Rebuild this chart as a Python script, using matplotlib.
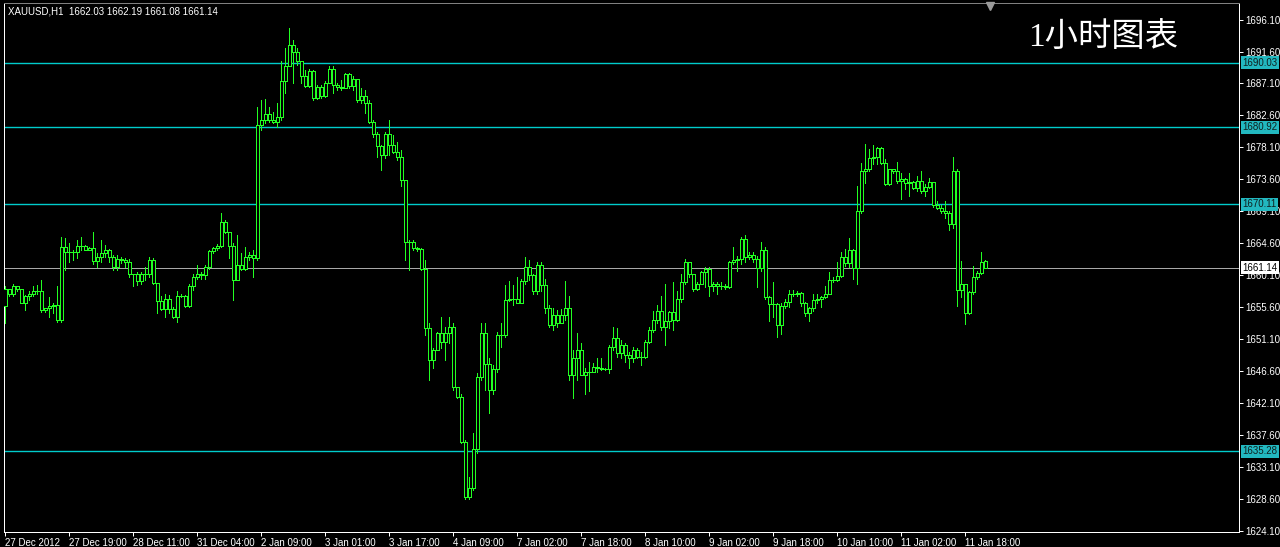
import matplotlib
matplotlib.use("Agg")
import matplotlib.pyplot as plt
import numpy as np

# XAUUSD H1, 27 Dec 2012 03:00 .. 11 Jan 2013 23:00 (246 bars)
opens = [
    1655.7, 1658.2, 1657.4, 1658.5, 1658.2, 1656.2, 1657.2, 1657.5, 1657.9, 1657.9,
    1655.2, 1655.4, 1655.8, 1655.9, 1653.8, 1664.1, 1663.4, 1663.3, 1663.3, 1664.2,
    1664.2, 1663.7, 1663.9, 1662.1, 1662.6, 1663.2, 1663.6, 1662.6, 1661.3, 1662.4,
    1662.2, 1662.0, 1660.2, 1660.2, 1659.2, 1660.2, 1660.2, 1662.2, 1659.0, 1656.4,
    1655.3, 1656.8, 1655.3, 1654.2, 1657.2, 1657.2, 1655.7, 1658.6, 1659.9, 1660.3,
    1660.1, 1661.3, 1663.5, 1663.9, 1664.2, 1667.6, 1666.2, 1664.2, 1659.4, 1661.5,
    1660.9, 1662.7, 1662.9, 1662.5, 1681.2, 1682.0, 1682.8, 1682.0, 1681.7, 1682.4,
    1687.4, 1689.5, 1692.5, 1691.6, 1690.2, 1688.2, 1686.8, 1688.9, 1685.0, 1686.6,
    1685.3, 1687.2, 1689.2, 1686.9, 1686.6, 1686.4, 1688.4, 1686.7, 1687.7, 1684.8,
    1685.3, 1684.3, 1681.7, 1680.0, 1678.3, 1677.0, 1680.0, 1678.4, 1677.5, 1676.7,
    1673.5, 1664.8, 1664.8, 1663.9, 1663.8, 1660.9, 1652.6, 1648.2, 1649.6, 1652.0,
    1650.7, 1651.9, 1652.8, 1644.4, 1642.9, 1636.6, 1628.9, 1630.1, 1635.6, 1645.8,
    1651.9, 1647.6, 1643.9, 1646.8, 1651.7, 1651.7, 1656.6, 1656.7, 1656.7, 1656.2,
    1659.2, 1661.3, 1660.1, 1657.8, 1661.5, 1658.7, 1655.4, 1653.1, 1654.5, 1653.3,
    1654.5, 1655.4, 1646.0, 1648.4, 1649.6, 1646.0, 1646.5, 1646.5, 1647.1, 1647.0,
    1646.8, 1646.8, 1649.9, 1651.2, 1649.1, 1650.3, 1648.8, 1648.4, 1649.6, 1648.6,
    1648.6, 1650.7, 1652.4, 1653.8, 1655.1, 1652.8, 1653.7, 1654.9, 1653.8, 1656.8,
    1659.1, 1661.9, 1660.2, 1658.2, 1658.9, 1660.5, 1661.0, 1658.6, 1658.8, 1658.6,
    1658.5, 1658.4, 1661.9, 1662.2, 1662.4, 1665.2, 1662.7, 1663.0, 1662.4, 1661.1,
    1663.6, 1657.0, 1656.0, 1656.0, 1653.0, 1655.8, 1656.3, 1657.5, 1657.5, 1657.6,
    1656.1, 1654.8, 1655.4, 1656.6, 1656.8, 1657.0, 1657.5, 1659.4, 1659.4, 1660.0,
    1662.6, 1661.8, 1663.6, 1661.1, 1669.1, 1674.8, 1675.1, 1676.6, 1676.7, 1678.0,
    1675.9, 1672.9, 1675.0, 1674.7, 1673.3, 1673.6, 1673.1, 1673.2, 1672.4, 1673.3,
    1672.0, 1672.5, 1673.2, 1670.0, 1669.6, 1669.1, 1668.9, 1667.3, 1674.8, 1658.0,
    1658.8, 1654.8, 1657.7, 1659.9, 1660.4, 1662.03,
]
highs = [
    1658.5, 1658.2, 1658.9, 1658.5, 1658.2, 1657.3, 1657.8, 1658.5, 1658.7, 1659.4,
    1655.5, 1657.0, 1656.1, 1658.5, 1665.5, 1665.3, 1664.6, 1663.6, 1665.0, 1665.5,
    1664.3, 1664.1, 1666.2, 1663.2, 1665.0, 1664.3, 1663.8, 1662.9, 1662.9, 1662.7,
    1662.5, 1662.3, 1660.3, 1660.6, 1660.6, 1661.3, 1662.6, 1662.5, 1658.9, 1657.1,
    1657.5, 1657.3, 1655.6, 1657.8, 1657.5, 1657.3, 1658.9, 1660.3, 1661.5, 1660.6,
    1661.5, 1663.7, 1664.1, 1664.5, 1668.9, 1667.9, 1666.2, 1664.6, 1665.7, 1663.2,
    1664.1, 1663.4, 1663.6, 1683.8, 1684.8, 1684.9, 1683.8, 1683.1, 1684.3, 1690.2,
    1692.1, 1694.9, 1693.2, 1692.1, 1690.2, 1689.0, 1689.1, 1689.0, 1686.9, 1686.9,
    1687.4, 1689.5, 1689.5, 1687.1, 1687.6, 1688.6, 1688.6, 1688.1, 1687.8, 1686.4,
    1686.2, 1684.8, 1682.0, 1680.3, 1678.4, 1680.3, 1682.0, 1679.8, 1678.9, 1677.7,
    1673.5, 1665.0, 1665.1, 1664.0, 1663.9, 1662.2, 1653.3, 1649.8, 1652.1, 1654.2,
    1652.8, 1654.2, 1653.3, 1644.4, 1643.4, 1636.9, 1631.7, 1637.8, 1646.3, 1653.3,
    1653.3, 1648.4, 1647.4, 1652.1, 1653.3, 1658.7, 1659.2, 1658.7, 1659.9, 1659.6,
    1662.7, 1662.2, 1660.3, 1662.0, 1662.0, 1659.6, 1655.9, 1655.4, 1655.2, 1655.3,
    1659.2, 1657.1, 1649.6, 1651.9, 1650.5, 1647.0, 1647.9, 1647.7, 1648.4, 1648.4,
    1647.0, 1650.3, 1652.8, 1652.6, 1651.0, 1650.5, 1649.3, 1650.0, 1649.8, 1649.3,
    1651.0, 1652.8, 1655.0, 1655.9, 1657.2, 1658.9, 1655.0, 1659.1, 1657.9, 1660.3,
    1662.4, 1661.9, 1660.3, 1659.1, 1660.7, 1661.2, 1661.2, 1659.1, 1659.1, 1659.1,
    1658.9, 1662.1, 1664.0, 1662.8, 1665.5, 1665.8, 1663.3, 1663.3, 1662.8, 1664.7,
    1664.0, 1657.2, 1659.1, 1656.1, 1656.1, 1656.8, 1658.0, 1658.0, 1657.9, 1657.7,
    1656.3, 1655.6, 1657.5, 1657.4, 1657.2, 1658.6, 1660.5, 1659.8, 1661.9, 1663.3,
    1663.8, 1665.3, 1663.8, 1672.6, 1675.9, 1678.6, 1677.8, 1678.4, 1678.2, 1678.1,
    1676.4, 1675.1, 1675.1, 1676.0, 1674.5, 1673.8, 1674.5, 1673.3, 1674.0, 1674.7,
    1672.9, 1673.8, 1673.2, 1670.5, 1670.0, 1670.5, 1669.1, 1676.7, 1675.0, 1662.1,
    1658.9, 1657.9, 1661.4, 1660.7, 1663.3, 1662.19,
]
lows = [
    1653.3, 1657.1, 1657.1, 1657.9, 1656.1, 1655.2, 1656.6, 1657.1, 1657.5, 1654.9,
    1654.9, 1654.2, 1654.7, 1653.5, 1653.5, 1660.8, 1662.0, 1662.2, 1662.5, 1663.6,
    1663.6, 1663.6, 1661.7, 1661.3, 1662.0, 1662.7, 1662.0, 1660.8, 1660.8, 1661.8,
    1661.3, 1659.9, 1658.5, 1658.7, 1658.9, 1659.4, 1659.9, 1658.9, 1654.7, 1655.2,
    1654.2, 1654.7, 1654.0, 1653.5, 1657.0, 1655.6, 1655.6, 1658.0, 1659.6, 1659.6,
    1659.6, 1661.0, 1663.2, 1663.7, 1664.1, 1666.0, 1662.5, 1656.6, 1659.4, 1660.8,
    1660.8, 1662.2, 1659.9, 1662.2, 1680.5, 1681.5, 1681.7, 1681.5, 1681.0, 1681.9,
    1685.7, 1689.5, 1687.1, 1689.7, 1687.1, 1686.6, 1686.6, 1684.8, 1684.9, 1685.1,
    1685.2, 1687.1, 1685.7, 1686.2, 1686.2, 1686.4, 1686.5, 1686.2, 1684.5, 1684.3,
    1682.9, 1681.5, 1679.6, 1676.8, 1674.9, 1676.6, 1677.0, 1677.3, 1676.3, 1672.6,
    1662.2, 1660.8, 1663.6, 1663.5, 1660.8, 1651.7, 1645.3, 1647.0, 1649.6, 1649.8,
    1648.2, 1650.5, 1643.9, 1642.8, 1636.4, 1628.5, 1628.5, 1629.8, 1635.0, 1645.3,
    1643.9, 1640.6, 1643.4, 1646.5, 1650.0, 1651.4, 1656.4, 1655.9, 1656.1, 1656.1,
    1658.9, 1659.4, 1657.5, 1657.5, 1657.8, 1654.7, 1652.8, 1652.4, 1652.8, 1653.8,
    1653.8, 1645.3, 1642.8, 1645.3, 1646.0, 1643.4, 1643.7, 1646.7, 1646.5, 1646.7,
    1646.7, 1646.3, 1649.6, 1648.6, 1648.4, 1647.9, 1647.0, 1647.9, 1648.4, 1647.4,
    1648.4, 1650.5, 1652.1, 1653.3, 1652.3, 1650.2, 1652.6, 1652.3, 1653.7, 1656.3,
    1658.9, 1659.8, 1657.9, 1658.0, 1658.9, 1658.4, 1657.2, 1657.9, 1657.5, 1658.2,
    1658.2, 1658.3, 1661.7, 1660.7, 1661.7, 1661.9, 1662.4, 1661.9, 1658.4, 1660.7,
    1656.8, 1653.7, 1654.2, 1651.4, 1651.8, 1655.4, 1655.6, 1657.2, 1657.2, 1655.8,
    1654.4, 1653.7, 1655.1, 1656.1, 1655.6, 1656.9, 1657.5, 1659.1, 1659.3, 1659.8,
    1661.4, 1661.2, 1659.6, 1658.9, 1668.9, 1673.1, 1674.8, 1675.7, 1675.8, 1675.7,
    1672.8, 1672.8, 1674.5, 1673.1, 1670.8, 1672.2, 1671.2, 1672.2, 1671.9, 1671.7,
    1671.2, 1672.4, 1669.7, 1669.4, 1668.9, 1668.2, 1666.4, 1666.8, 1655.8, 1657.0,
    1653.2, 1654.6, 1657.5, 1659.6, 1660.3, 1661.08,
]
closes = [
    1658.2, 1657.4, 1658.5, 1658.2, 1656.2, 1657.2, 1657.5, 1657.9, 1657.9, 1655.2,
    1655.4, 1655.8, 1655.9, 1653.8, 1664.1, 1663.4, 1663.3, 1663.3, 1664.2, 1664.2,
    1663.7, 1663.9, 1662.1, 1662.6, 1663.2, 1663.6, 1662.6, 1661.3, 1662.4, 1662.2,
    1662.0, 1660.2, 1660.2, 1659.2, 1660.2, 1660.2, 1662.2, 1659.0, 1656.4, 1655.3,
    1656.8, 1655.3, 1654.2, 1657.2, 1657.2, 1655.7, 1658.6, 1659.9, 1660.3, 1660.1,
    1661.3, 1663.5, 1663.9, 1664.2, 1667.6, 1666.2, 1664.2, 1659.4, 1661.5, 1660.9,
    1662.7, 1662.9, 1662.5, 1681.2, 1682.0, 1682.8, 1682.0, 1681.7, 1682.4, 1687.4,
    1689.5, 1692.5, 1691.6, 1690.2, 1688.2, 1686.8, 1688.9, 1685.0, 1686.6, 1685.3,
    1687.2, 1689.2, 1686.9, 1686.6, 1686.4, 1688.4, 1686.7, 1687.7, 1684.8, 1685.3,
    1684.3, 1681.7, 1680.0, 1678.3, 1677.0, 1680.0, 1678.4, 1677.5, 1676.7, 1673.5,
    1664.8, 1664.8, 1663.9, 1663.8, 1660.9, 1652.6, 1648.2, 1649.6, 1652.0, 1650.7,
    1651.9, 1652.8, 1644.4, 1642.9, 1636.6, 1628.9, 1630.1, 1635.6, 1645.8, 1651.9,
    1647.6, 1643.9, 1646.8, 1651.7, 1651.7, 1656.6, 1656.7, 1656.7, 1656.2, 1659.2,
    1661.3, 1660.1, 1657.8, 1661.5, 1658.7, 1655.4, 1653.1, 1654.5, 1653.3, 1654.5,
    1655.4, 1646.0, 1648.4, 1649.6, 1646.0, 1646.5, 1646.5, 1647.1, 1647.0, 1646.8,
    1646.8, 1649.9, 1651.2, 1649.1, 1650.3, 1648.8, 1648.4, 1649.6, 1648.6, 1648.6,
    1650.7, 1652.4, 1653.8, 1655.1, 1652.8, 1653.7, 1654.9, 1653.8, 1656.8, 1659.1,
    1661.9, 1660.2, 1658.2, 1658.9, 1660.5, 1661.0, 1658.6, 1658.8, 1658.6, 1658.5,
    1658.4, 1661.9, 1662.2, 1662.4, 1665.2, 1662.7, 1663.0, 1662.4, 1661.1, 1663.6,
    1657.0, 1656.0, 1656.0, 1653.0, 1655.8, 1656.3, 1657.5, 1657.5, 1657.6, 1656.1,
    1654.8, 1655.4, 1656.6, 1656.8, 1657.0, 1657.5, 1659.4, 1659.4, 1660.0, 1662.6,
    1661.8, 1663.6, 1661.1, 1669.1, 1674.8, 1675.1, 1676.6, 1676.7, 1678.0, 1675.9,
    1672.9, 1675.0, 1674.7, 1673.3, 1673.6, 1673.1, 1673.2, 1672.4, 1673.3, 1672.0,
    1672.5, 1673.2, 1670.0, 1669.6, 1669.1, 1668.9, 1667.3, 1674.8, 1658.0, 1658.8,
    1654.8, 1657.7, 1659.9, 1660.4, 1662.0, 1661.14,
]

levels = [1690.03, 1680.92, 1670.11, 1635.28]
bid = 1661.14

price_ticks = [1624.10, 1628.60, 1633.10, 1637.60, 1642.10, 1646.60, 1651.10, 1655.60,
               1660.10, 1664.60, 1669.10, 1673.60, 1678.10, 1682.60, 1687.10, 1691.60, 1696.10]
time_labels = ["27 Dec 2012", "27 Dec 19:00", "28 Dec 11:00", "31 Dec 04:00", "2 Jan 09:00",
               "3 Jan 01:00", "3 Jan 17:00", "4 Jan 09:00", "7 Jan 02:00", "7 Jan 18:00",
               "8 Jan 10:00", "9 Jan 02:00", "9 Jan 18:00", "10 Jan 10:00", "11 Jan 02:00",
               "11 Jan 18:00"]
time_label_bars = [0, 16, 32, 48, 64, 80, 96, 112, 128, 144, 160, 176, 192, 208, 224, 240]

W, H = 1280, 547
fig = plt.figure(figsize=(W / 100, H / 100), dpi=100, facecolor="black")
ax = fig.add_axes([4 / W, 15 / H, 1234.7 / W, 529 / H], facecolor="black")

GREEN = "#22ff22"
LEVEL = "#00cccc"
px = 0.72  # one pixel in points

o = np.array(opens)
c = np.array(closes)
x = np.arange(len(c))

# wicks
ax.vlines(x, lows, highs, color=GREEN, lw=px, zorder=2, antialiased=False)
# hollow bodies
body_lo = np.minimum(o, c)
body_h = np.abs(c - o)
ax.bar(x, body_h, bottom=body_lo, width=0.75, facecolor="black",
       edgecolor=GREEN, linewidth=px, zorder=3, antialiased=False)

# horizontal levels + bid line
for lv in levels:
    ax.axhline(lv, color=LEVEL, lw=1.0, zorder=1)
ax.axhline(bid, color="#a8a8a8", lw=px, zorder=1, antialiased=False)

ax.set_xlim(-0.25, 308.4)
ax.set_ylim(1623.90, 1698.44)

for s in ax.spines.values():
    s.set_color("white")
    s.set_linewidth(px)
    s.set_antialiased(False)
ax.spines["top"].set_color("#808080")

ax.yaxis.tick_right()
ax.set_yticks(price_ticks)
ax.set_yticklabels([f"{v:.2f}" for v in price_ticks])
ax.tick_params(axis="y", colors="white", length=3, width=px, pad=2, labelsize=7)
ax.set_xticks(time_label_bars)
ax.set_xticklabels(time_labels)
ax.tick_params(axis="x", colors="white", length=3, width=px, pad=1, labelsize=7)
for t in ax.get_xticklabels():
    t.set_horizontalalignment("left")
for t in ax.get_xticklabels() + ax.get_yticklabels():
    t.set_fontfamily("Liberation Sans")
    t.set_color("white")

# highlighted price labels on the right scale
for lv in levels:
    ax.text(1.0028, lv, f"{lv:.2f}", transform=ax.get_yaxis_transform(),
            fontsize=7, family="Liberation Sans", color="#102020", va="center", ha="left",
            bbox=dict(boxstyle="square,pad=0.15", fc="#22b8c0", ec="none"), zorder=5,
            clip_on=False)
ax.text(1.0028, bid, f"{bid:.2f}", transform=ax.get_yaxis_transform(),
        fontsize=7, family="Liberation Sans", color="black", va="center", ha="left",
        bbox=dict(boxstyle="square,pad=0.15", fc="white", ec="none"), zorder=5,
        clip_on=False)

# header
fig.text(8 / W, 1 - 12 / H, "XAUUSD,H1  1662.03 1662.19 1661.08 1661.14", color="white",
         fontsize=7, family="Liberation Sans", va="center", ha="left")
fig.text(1028 / W, 1 - 38 / H, "1小时图表", color="white", fontsize=24,
         family=["Liberation Serif", "Noto Sans CJK SC"], va="center", ha="left")

# chart shift marker
ax.plot([0.7986], [0.994], marker="v", color="#9a9a9a", markersize=6,
        transform=ax.transAxes, clip_on=False, zorder=6)

fig.savefig("out.png", dpi=100, facecolor="black")
